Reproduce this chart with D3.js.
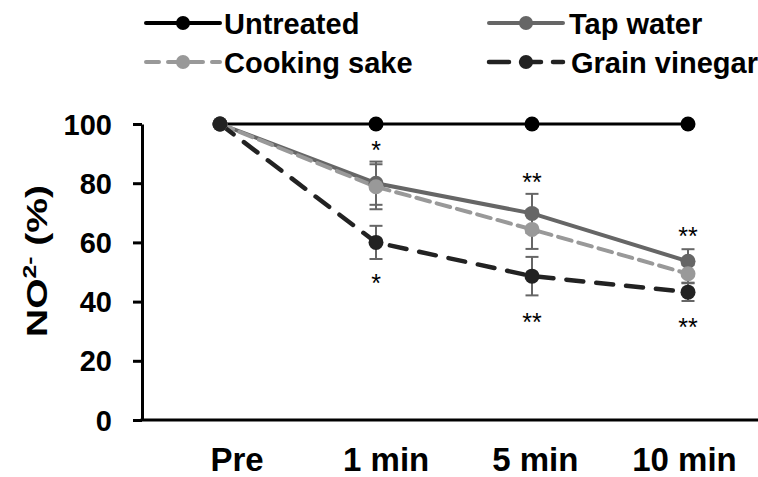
<!DOCTYPE html>
<html><head><meta charset="utf-8">
<script src="https://cdn.jsdelivr.net/npm/d3@7"></script>
<style>
html,body{margin:0;padding:0;background:#fff;}
svg{display:block;font-family:"Liberation Sans",Arial,sans-serif;}
</style></head>
<body>
<svg id="chart" width="758" height="477"></svg>
<script>
// ---- data ----
const categories = ["Pre", "1 min", "5 min", "10 min"];
const seriesNames = ["Untreated", "Tap water", "Cooking sake", "Grain vinegar"];
const untreated = [100, 100, 100, 100];
const tapWater = [100, 80.0, 69.8, 53.6];
const tapWaterErr = [0, 7.3, 6.6, 4.1];
const cookingSake = [100, 78.8, 64.4, 49.4];
const cookingSakeErr = [0, 7.6, 6.6, 3.0];
const grainVinegar = [100, 60.0, 48.6, 43.2];
const grainVinegarErr = [0, 5.6, 6.5, 3.0];
const yTicks = [0, 20, 40, 60, 80, 100];
const sigCats = ["1 min", "5 min", "10 min"];
const sigAboveLabels = ["*", "**", "**"];
const sigAboveValues = [92.9, 82.2, 63.9];
const sigBelowLabels = ["*", "**", "**"];
const sigBelowValues = [48.0, 34.9, 33.2];

const series = [
  {name: seriesNames[0], values: untreated, err: null, color: "#000000", width: 3, dash: null, legendDash: null, legendWidth: 4},
  {name: seriesNames[1], values: tapWater, err: tapWaterErr, color: "#666666", width: 4, dash: null, legendDash: null, legendWidth: 4},
  {name: seriesNames[2], values: cookingSake, err: cookingSakeErr, color: "#999999", width: 4, dash: "14,7", legendDash: "13,9", legendWidth: 4},
  {name: seriesNames[3], values: grainVinegar, err: grainVinegarErr, color: "#222222", width: 4.5, dash: "17,13", legendDash: "20,12", legendWidth: 4.5}
];

const svg = d3.select("#chart");
const x = d3.scalePoint().domain(categories).range([220, 688]);
const xLab = d3.scalePoint().domain(categories).range([237, 684.5]);
const y = d3.scaleLinear().domain([0, 100]).range([420, 124]);

// axes
const yAxis = svg.append("g").attr("transform", "translate(142,0)")
  .call(d3.axisLeft(y).tickValues(yTicks).tickSize(9).tickSizeOuter(0).tickPadding(21));
yAxis.select(".domain").attr("stroke", "#000").attr("stroke-width", 3);
yAxis.selectAll(".tick line").attr("stroke", "#000").attr("stroke-width", 3);
yAxis.selectAll(".tick text").attr("font-size", 29).attr("font-weight", "bold").attr("fill", "#000")
  .attr("font-family", "Liberation Sans, Arial, sans-serif").attr("dy", "0.35em");

svg.append("line").attr("x1", 140.5).attr("x2", 758).attr("y1", y(0)).attr("y2", y(0))
  .attr("stroke", "#000").attr("stroke-width", 3);

svg.append("g").selectAll("text").data(categories).join("text")
  .attr("x", d => xLab(d)).attr("y", 471).attr("text-anchor", "middle")
  .attr("font-size", 33).attr("font-weight", "bold").attr("fill", "#000").text(d => d);

// y title
const yt = svg.append("text").attr("transform", "translate(47,261) rotate(-90) scale(1.3,1)")
  .attr("text-anchor", "middle").attr("font-size", 30).attr("font-weight", "bold").attr("fill", "#000");
yt.append("tspan").text("NO");
yt.append("tspan").attr("font-size", 19).attr("dy", -11).text("2-");
yt.append("tspan").attr("dy", 11).text(" (%)");

// lines
const line = d3.line().x((d, i) => x(categories[i])).y(d => y(d));
series.forEach(s => {
  svg.append("path").datum(s.values).attr("d", line).attr("fill", "none")
    .attr("stroke", s.color).attr("stroke-width", s.width)
    .attr("stroke-dasharray", s.dash).attr("stroke-linecap", s.dash ? "round" : "butt");
});

// error bars
series.forEach(s => {
  if (!s.err) return;
  s.values.forEach((v, i) => {
    const e = s.err[i];
    if (!e) return;
    const cx = x(categories[i]);
    const g = svg.append("g").attr("stroke", "#666").attr("stroke-width", 2);
    g.append("line").attr("x1", cx).attr("x2", cx).attr("y1", y(v + e)).attr("y2", y(v - e));
    g.append("line").attr("x1", cx - 6.5).attr("x2", cx + 6.5).attr("y1", y(v + e)).attr("y2", y(v + e));
    g.append("line").attr("x1", cx - 6.5).attr("x2", cx + 6.5).attr("y1", y(v - e)).attr("y2", y(v - e));
  });
});

// markers
series.forEach(s => {
  svg.append("g").selectAll("circle").data(s.values).join("circle")
    .attr("cx", (d, i) => x(categories[i])).attr("cy", d => y(d)).attr("r", 7.5)
    .attr("fill", s.color);
});

// significance marks
svg.append("g").selectAll("text").data(sigCats).join("text")
  .attr("x", d => x(d)).attr("y", (d, i) => y(sigAboveValues[i]) + 14)
  .attr("text-anchor", "middle").attr("font-size", 25).attr("fill", "#000").text((d, i) => sigAboveLabels[i]);
svg.append("g").selectAll("text").data(sigCats).join("text")
  .attr("x", d => x(d)).attr("y", (d, i) => y(sigBelowValues[i]) + 14)
  .attr("text-anchor", "middle").attr("font-size", 25).attr("fill", "#000").text((d, i) => sigBelowLabels[i]);

// legend
const legendX = [146, 489, 146, 489];
const legendY = [23, 23, 62, 62];
const legendTextX = [224, 569, 224, 571];
series.forEach((s, i) => {
  const g = svg.append("g");
  const x0 = legendX[i], x1 = legendX[i] + 74, yy = legendY[i];
  g.append("line").attr("x1", x0).attr("x2", x1).attr("y1", yy).attr("y2", yy)
    .attr("stroke", s.color).attr("stroke-width", s.legendWidth)
    .attr("stroke-dasharray", s.legendDash).attr("stroke-linecap", "round");
  g.append("circle").attr("cx", (x0 + x1) / 2).attr("cy", yy).attr("r", 7).attr("fill", s.color);
  g.append("text").attr("x", legendTextX[i]).attr("y", yy + 10.5)
    .attr("font-size", 29).attr("font-weight", "bold").attr("fill", "#000").text(s.name);
});
</script>
</body></html>
